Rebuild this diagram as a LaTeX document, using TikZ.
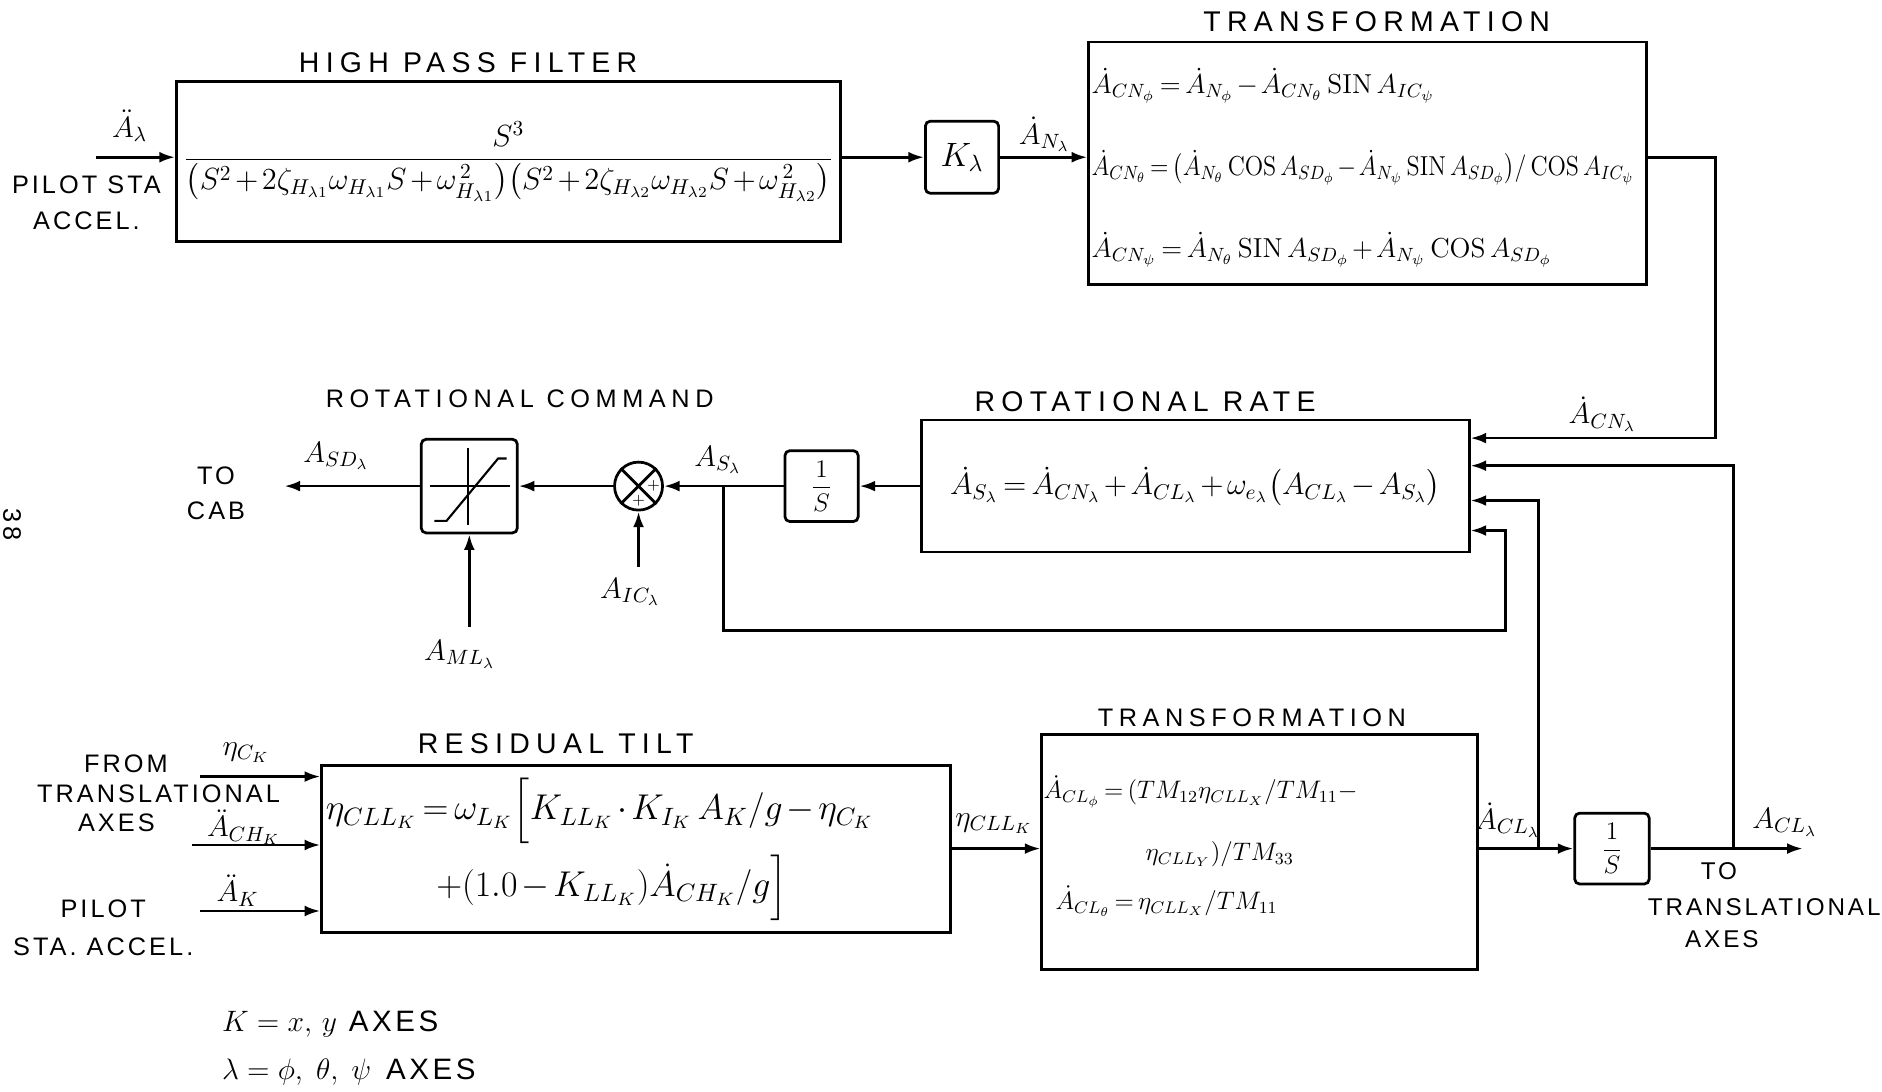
\RequirePackage{fix-cm}
\documentclass[tikz,border=0pt]{standalone}
\usepackage{amsmath}
\usepackage{graphicx}
\usepackage{fontspec}
\newfontfamily\handfont[LetterSpace=12]{Liberation Sans}
\newfontfamily\titlefont[LetterSpace=22]{Liberation Sans}
\usetikzlibrary{positioning, arrows.meta}

\newcommand{\SIN}{\,\mathrm{SIN}\,}
\newcommand{\COS}{\,\mathrm{COS}\,}
\newcommand{\tight}{\medmuskip=2mu\thickmuskip=3mu}
\newcommand{\eqline}[1]{\makebox[92mm][l]{#1}}

\begin{document}
\begin{tikzpicture}[
    x=0.2mm, y=-0.2mm,
    line width=1.3pt,
    box/.style={
        draw,
        rectangle,
        inner sep=0pt
    },
    small/.style={box, rounded corners=0.8mm},
    title/.style={font=\titlefont\fontsize{13.5}{16}\selectfont},
    lbl/.style={font=\handfont\fontsize{12}{14}\selectfont, align=center},
    sig/.style={font=\fontsize{14}{17}\selectfont},
    edge/.style={-{Latex[length=2.6mm,width=1.8mm]}}
]
\useasboundingbox (0,0) rectangle (1568,909);

% top row
\node[box, minimum width=110.6mm, minimum height=26.6mm, font=\fontsize{14.5}{18}\selectfont\tight] (hpf) at (423.5,134.5)
    {$\dfrac{S^3}{\bigl(S^2+2\zeta_{H_{\lambda1}}\omega_{H_{\lambda1}}S+\omega_{H_{\lambda1}}^{\,2}\bigr)\bigl(S^2+2\zeta_{H_{\lambda2}}\omega_{H_{\lambda2}}S+\omega_{H_{\lambda2}}^{\,2}\bigr)}$};
\node[small, minimum width=12.2mm, minimum height=12mm, font=\fontsize{16}{18}\selectfont] (gain) at (801.5,131) {$K_\lambda$};
\node[box, minimum width=93mm, minimum height=40.4mm, font=\fontsize{13}{16}\selectfont\tight, align=left] (trans) at (1139.5,136)
    {\mbox{}\\[0mm]
     \eqline{$\dot A_{CN_\phi} = \dot A_{N_\phi} - \dot A_{CN_\theta}\SIN A_{IC_\psi}$}\\[7.5mm]
     \eqline{\scalebox{0.88}[1]{$\dot A_{CN_\theta} = \bigl(\dot A_{N_\theta}\COS A_{SD_\phi} - \dot A_{N_\psi}\SIN A_{SD_\phi}\bigr)/\COS A_{IC_\psi}$}}\\[7.5mm]
     \eqline{$\dot A_{CN_\psi} = \dot A_{N_\theta}\SIN A_{SD_\phi} + \dot A_{N_\psi}\COS A_{SD_\phi}$}};

\node[title] (hpft) at (390,52) {HIGH PASS FILTER};
\node[title] (trt) at (1147,18) {TRANSFORMATION};
\node[sig] (ai) at (108,105) {$\ddot A_\lambda$};
\node[lbl] (pilot) at (72,169) {PILOT STA\\[1mm]ACCEL.};
\node[sig] (anl) at (870,112) {$\dot A_{N_\lambda}$};

\coordinate (in) at (80,131);
\draw[edge] (in) -- (in -| hpf.west);
\draw[edge] (hpf.east |- gain) -- (gain.west);
\draw[edge] (gain.east) -- (gain.east -| trans.west);

% rotational row
\node[box, minimum width=91.2mm, minimum height=22mm, font=\fontsize{14.5}{18}\selectfont\tight] (rate) at (996,405)
    {$\dot A_{S_\lambda} = \dot A_{CN_\lambda} + \dot A_{CL_\lambda} + \omega_{e_\lambda}\bigl(A_{CL_\lambda} - A_{S_\lambda}\bigr)$};
\node[small, minimum width=12.2mm, minimum height=11.8mm, font=\fontsize{12}{14}\selectfont] (int1) at (684.5,405) {$\dfrac{1}{S}$};
\node[draw, circle, minimum size=8mm, inner sep=0pt] (sum) at (532,405) {};
\node[small, minimum width=16mm, minimum height=15.6mm] (sat) at (391,405) {};

\draw (sum.north west) -- (sum.south east);
\draw (sum.north east) -- (sum.south west);
\node[font=\scriptsize, inner sep=0pt] (p1) at ([xshift=2.5mm]sum.center) {$+$};
\node[font=\scriptsize, inner sep=0pt] (p2) at ([yshift=-2.5mm]sum.center) {$+$};
\draw[line width=1pt] (358,405) -- (425,405);
\draw[line width=1pt] (390,373) -- (390,437);
\draw[line width=1pt] (362,434) -- (372,434) -- (415,382) -- (422,382);

\node[font=\titlefont\fontsize{12}{14}\selectfont] (rct) at (433,332) {ROTATIONAL COMMAND};
\node[title] (rrt) at (954,335) {ROTATIONAL\enspace RATE};
\node[lbl] (tocab) at (180,411) {TO\\[1mm]CAB};
\node[sig] (acn) at (1335,345) {$\dot A_{CN_\lambda}$};
\node[sig] (asd) at (280,380) {$A_{SD_\lambda}$};
\node[sig] (asl) at (598,383) {$A_{S_\lambda}$};
\node[sig] (aicl) at (525,493) {$A_{IC_\lambda}$};
\node[sig] (amll) at (383,545) {$A_{ML_\lambda}$};

\coordinate (c1) at (1429,131);
\coordinate (cnpt) at (1429,365);
\draw[edge] (trans.east |- c1) -- (c1) -- (cnpt) -- (cnpt -| rate.east);
\draw[edge] (rate.west) -- (int1.east);
\draw[edge] (int1.west) -- (sum.east);
\draw[edge] (sum.west) -- (sat.east);
\coordinate (cab) at (237,405);
\draw[edge] (sat.west) -- (cab);
\coordinate (aic) at (532,472);
\draw[edge] (aic) -- (sum.south);
\coordinate (aml) at (391,522);
\draw[edge] (aml) -- (sat.south);
\coordinate (fb) at (603,405);
\coordinate (fbl) at (603,525);
\coordinate (fbr) at (1254,525);
\coordinate (fbin) at (1254,442);
\draw[edge] (fb) -- (fbl) -- (fbr) -- (fbin) -- (fbin -| rate.east);

% bottom row
\node[box, minimum width=104.8mm, minimum height=27.8mm, font=\fontsize{17}{20}\selectfont\tight, align=left, text width=103.4mm] (tilt) at (530,707.5)
    {$\eta_{CLL_K} = \omega_{L_K}\Bigl[K_{LL_K}\cdot K_{I_K}\;A_K/g - \eta_{C_K}$\\[1.5mm]
     \hspace{18.4mm}$+(1.0 - K_{LL_K})\dot A_{CH_K}/g\Bigr]$};
\node[box, minimum width=72.6mm, minimum height=39.2mm, font=\fontsize{12}{15}\selectfont\tight, align=left, text width=72mm] (trans2) at (1049.5,710)
    {$\dot A_{CL_\phi} = (TM_{12}\eta_{CLL_X}/TM_{11} -$\\[5mm]
     \hspace{17mm}$\eta_{CLL_Y})/TM_{33}$\\[2.9mm]
     \hspace{2mm}$\dot A_{CL_\theta} = \eta_{CLL_X}/TM_{11}$\\[-2mm]\mbox{}};
\node[small, minimum width=12.4mm, minimum height=11.8mm, font=\fontsize{12}{14}\selectfont] (int2) at (1343,707) {$\dfrac{1}{S}$};

\node[title] (rtt) at (463,620) {RESIDUAL TILT};
\node[font=\titlefont\fontsize{12}{14}\selectfont] (tr2t) at (1043,598) {TRANSFORMATION};
\node[lbl, align=left, anchor=west] (from) at (24,661) {\hspace{7.8mm}FROM\\TRANSLATIONAL\\\hspace{6.8mm}AXES};
\node[lbl, font=\handfont\fontsize{12}{18}\selectfont] (pilot2) at (86,773) {PILOT\\STA. ACCEL.};
\node[lbl, align=left, anchor=west, font=\handfont\fontsize{11.5}{14}\selectfont] (totr) at (1366,754.5) {\hspace{8.8mm}TO\\[1mm]TRANSLATIONAL\\[0.5mm]\hspace{6.2mm}AXES};
\node[sig] (etack) at (205,627) {$\eta_{C_K}$};
\node[sig] (achk) at (203,689) {$\ddot A_{CH_K}$};
\node[sig] (akl) at (198,742) {$\ddot A_K$};
\node[sig] (etall) at (828,686) {$\eta_{CLL_K}$};
\node[sig] (acll) at (1256,683) {$\dot A_{CL_\lambda}$};
\node[sig] (aclo) at (1487,685) {$A_{CL_\lambda}$};

\coordinate (etin) at (167,647);
\coordinate (achin) at (160,704);
\coordinate (akin) at (167,759);
\draw[edge] (etin) -- (etin -| tilt.west);
\draw[edge] (achin) -- (achin -| tilt.west);
\draw[edge] (akin) -- (akin -| tilt.west);
\draw[edge] (tilt.east |- int2) -- (int2 -| trans2.west);
\draw[edge] (trans2.east |- int2) -- (int2.west);
\coordinate (aout) at (1502,707);
\draw[edge] (int2.east) -- (aout);
\coordinate (j1) at (1282,707);
\coordinate (j1t) at (1282,417);
\draw[edge] (j1) -- (j1t) -- (j1t -| rate.east);
\coordinate (j2) at (1444,707);
\coordinate (j2t) at (1444,388);
\draw[edge] (j2) -- (j2t) -- (j2t -| rate.east);

% legend
\node[lbl, anchor=west, font=\handfont\fontsize{14}{16}\selectfont] (leg1) at (178,853) {$K = x,\, y$ AXES};
\node[lbl, anchor=west, font=\handfont\fontsize{14}{16}\selectfont] (leg2) at (178,893) {$\lambda = \phi,\; \theta,\; \psi$\enspace AXES};
\node[lbl, rotate=-90] (pg) at (10,437) {38};

\end{tikzpicture}
\end{document}
